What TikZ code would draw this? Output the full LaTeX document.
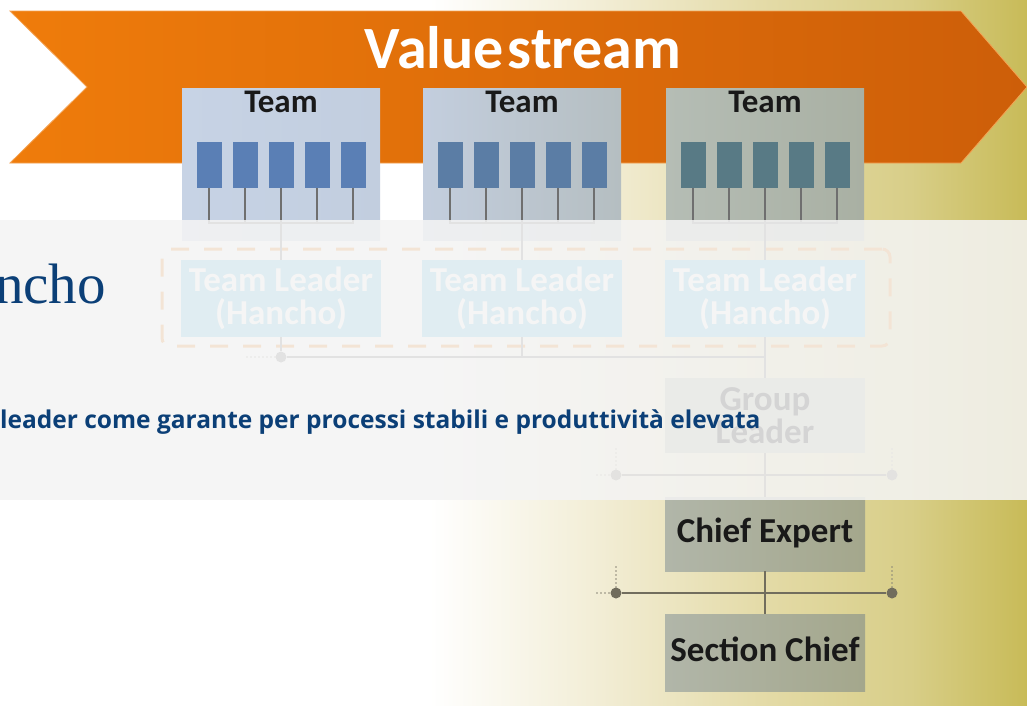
\documentclass[tikz,border=0pt]{standalone}
\usepackage{fontspec}
\setmainfont{Carlito}
\newfontfamily\slabfont{Liberation Serif}
\newfontfamily\claimfont{Open Sans}
\usepackage{tikz}
\usepackage{xcolor}
\usetikzlibrary{positioning}

\definecolor{streamL}{HTML}{EF7C0B}
\definecolor{streamR}{HTML}{CD5E09}
\definecolor{teamAL}{HTML}{C7D3E5}
\definecolor{teamAR}{HTML}{C2CEDF}
\definecolor{teamBL}{HTML}{C3CEDE}
\definecolor{teamBR}{HTML}{B5BEC1}
\definecolor{teamCL}{HTML}{B5BDB5}
\definecolor{teamCR}{HTML}{A9B0A3}
\definecolor{memberA}{HTML}{5A7FB5}
\definecolor{memberB}{HTML}{5B7DA5}
\definecolor{memberC}{HTML}{587A85}
\definecolor{leadercyan}{HTML}{5BC0E6}
\definecolor{groupgray}{HTML}{ABAF9C}
\definecolor{chiefL}{HTML}{B1B6A9}
\definecolor{chiefR}{HTML}{A4A78C}
\definecolor{linkgray}{HTML}{6F6F6F}
\definecolor{barolive}{HTML}{716D5D}
\definecolor{trailgray}{HTML}{8A8677}
\definecolor{veilgray}{HTML}{F4F4F4}
\definecolor{headblue}{HTML}{0B3F77}

\pgfdeclarehorizontalshading{bgfade}{100bp}{color(0bp)=(white); color(45.9bp)=(white);
  color(54.2bp)=(rgb,255:red,242;green,237;blue,213); color(62bp)=(rgb,255:red,228;green,219;blue,168);
  color(69.3bp)=(rgb,255:red,216;green,206;blue,136); color(75bp)=(rgb,255:red,200;green,187;blue,88);
  color(100bp)=(rgb,255:red,200;green,187;blue,88)}

\tikzset{
streamfill/.style={left color=streamL, right color=streamR, draw=streamL!70!white, line width=0.8pt},
streamtext/.style={anchor=base, inner sep=0pt, text=white, font=\fontsize{60}{60}\selectfont\bfseries},
teambox/.style={minimum width=198pt, minimum height=152pt, inner sep=0pt},
teamlabel/.style={anchor=base, inner sep=0pt, text=black!90, font=\fontsize{33}{33}\selectfont\bfseries},
member/.style={fill=#1, minimum width=25pt, minimum height=46pt, inner sep=0pt},
link/.style={draw=linkgray, line width=2pt},
bar/.style={draw=barolive, line width=2.6pt},
joint/.style={circle, fill=#1, minimum size=11pt, inner sep=0pt},
trail/.style={draw=trailgray, line width=1.6pt, line cap=round, dash pattern=on 0pt off 4pt},
leaderframe/.style={draw=streamL, line width=3pt, dash pattern=on 18pt off 15pt, rounded corners=8pt,
  minimum width=728pt, minimum height=97pt},
leaderbox/.style={fill=leadercyan, minimum width=200pt, minimum height=77pt, inner sep=0pt,
  text=white, align=center, font=\fontsize{35}{33}\selectfont\bfseries},
groupbox/.style={leaderbox, fill=groupgray, minimum height=75pt, text=black},
chiefbox/.style={left color=chiefL, right color=chiefR, minimum width=200pt, inner sep=0pt,
  text height=24pt, text depth=7pt, text=black!90, font=\fontsize{35}{35}\selectfont\bfseries},
veil/.style={fill=veilgray, fill opacity=0.87}
}

\begin{document}
\begin{tikzpicture}[x=1pt,y=-1pt]
\useasboundingbox (0,0) rectangle (1027,705);

% Background
\shade[shading=bgfade] (0,0) rectangle (1027,705);

% Value stream
\shade[streamfill] (10,11) -- (961,11) -- (1027,87) -- (961,163) -- (10,163) -- (87,87) -- cycle;
\node[streamtext] (stream) at (523,68) {Value\hspace{4pt}stream};

% Teams
\foreach \t/\cx/\lc/\rc/\mc in {1/281/teamAL/teamAR/memberA,2/522/teamBL/teamBR/memberB,3/765/teamCL/teamCR/memberC}{
  \node[teambox, left color=\lc, right color=\rc] (team\t) at (\cx,164) {};
  \node[teamlabel] (teamlbl\t) at (\cx,112) {Team};
  \foreach \i in {1,...,5}
    \node[member=\mc] (m\t\i) at ({\cx+36*(\i-3)},165) {};
  \coordinate (comb\t) at (\cx,223);
  \draw[link] (m\t1.south) |- (comb\t) -| (m\t5.south);
  \foreach \i in {2,3,4}
    \draw[link] (m\t\i.south) -- (m\t\i.south |- comb\t);
}

% Team leaders
\node[leaderframe] (frame) at (526,297.5) {};
\node[joint=linkgray] (dot1) at (281,357) {};
\coordinate (bus2) at (522,357);
\coordinate (bus3) at (765,357);
\coordinate (trail1) at (247,357);
\draw[link] (comb1) -- (dot1);
\draw[link] (comb2) -- (bus2);
\draw[link] (comb3) -- (bus3);
\draw[link] (dot1) -- (bus3);
\draw[trail] (trail1) -- (dot1);
\foreach \t/\cx in {1/281,2/522,3/765}
  \node[leaderbox] (leader\t) at (\cx,298.5) {Team Leader\\(Hancho)};

% Group leader
\node[groupbox] (group) at (765,415.5) {Group\\Leader};
\node[chiefbox, minimum height=74pt] (chief) at (765,534) {Chief Expert};
\node[chiefbox, minimum height=77pt, below=43pt of chief] (section) {Section Chief};
\draw[link] (bus3) -- (group.north);
\draw[bar] (group.south) -- (chief.north);
\node[joint=barolive] (jl1) at (616,475) {};
\node[joint=barolive] (jr1) at (892,475) {};
\coordinate (jl1up) at (616,449);
\coordinate (jr1up) at (892,449);
\coordinate (jl1left) at (597,475);
\draw[bar] (jl1) -- (jr1);
\draw[trail] (jl1up) -- (jl1);
\draw[trail] (jr1up) -- (jr1);
\draw[trail] (jl1left) -- (jl1);

% Veil
\fill[veil] (0,220) rectangle (1027,500);

% Chief expert and section chief
\draw[bar] (chief.south) -- (section.north);
\node[joint=barolive] (jl2) at (616,593) {};
\node[joint=barolive] (jr2) at (892,593) {};
\coordinate (jl2up) at (616,567);
\coordinate (jr2up) at (892,567);
\coordinate (jl2left) at (597,593);
\draw[bar] (jl2) -- (jr2);
\draw[trail] (jl2up) -- (jl2);
\draw[trail] (jr2up) -- (jr2);
\draw[trail] (jl2left) -- (jl2);

% Texts on the veil
\node[anchor=base east, inner sep=0pt, text=headblue, font=\slabfont\fontsize{57}{57}\selectfont] (hancho) at (106,303) {ncho};
\node[anchor=base west, inner sep=0pt, text=headblue, font=\claimfont\bfseries\fontsize{24.5}{24.5}\selectfont] (claim) at (0,428) {leader come garante per processi stabili e produttività elevata};

\end{tikzpicture}
\end{document}
